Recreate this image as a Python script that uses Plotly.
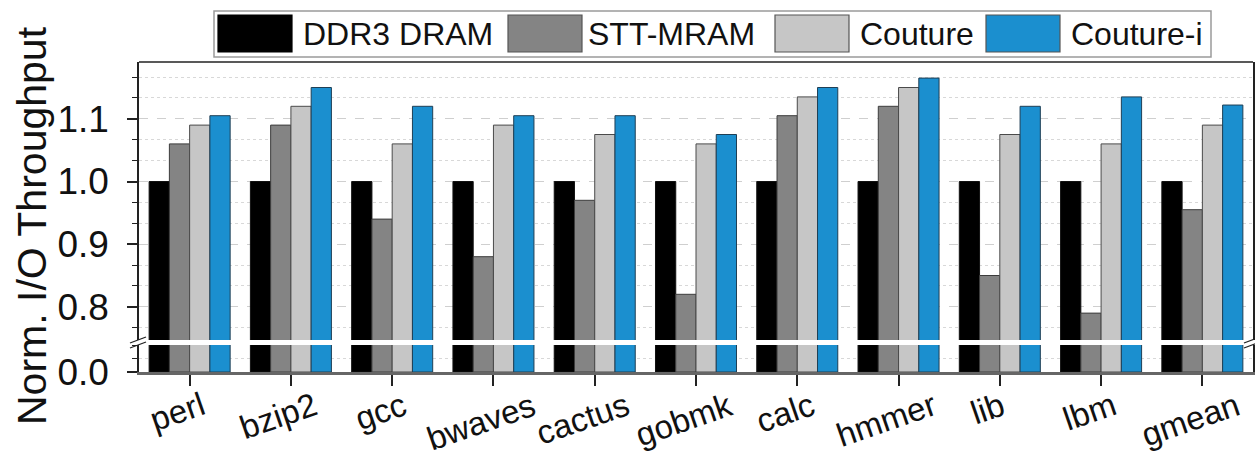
import plotly.graph_objects as go

categories = ["perl", "bzip2", "gcc", "bwaves", "cactus", "gobmk", "calc", "hmmer", "lib", "lbm", "gmean"]
ddr3_dram = [1.0, 1.0, 1.0, 1.0, 1.0, 1.0, 1.0, 1.0, 1.0, 1.0, 1.0]
stt_mram = [1.06, 1.09, 0.94, 0.88, 0.97, 0.82, 1.105, 1.12, 0.85, 0.79, 0.955]
couture = [1.09, 1.12, 1.06, 1.09, 1.075, 1.06, 1.135, 1.15, 1.075, 1.06, 1.09]
couture_i = [1.105, 1.15, 1.12, 1.105, 1.105, 1.075, 1.15, 1.165, 1.12, 1.135, 1.122]

series_names = ["DDR3 DRAM", "STT-MRAM", "Couture", "Couture-i"]
series_values = [ddr3_dram, stt_mram, couture, couture_i]
series_colors = ["#000000", "#848484", "#c6c6c6", "#1b8fcf"]
series_lines = ["#111111", "#3c3c3c", "#4a4a4a", "#1f3f55"]

y_ticks_lower = [0.0]

W, H = 1255, 457
ML, MR, MT, MB = 139, 2, 62, 85
PW = W - ML - MR
PH = H - MT - MB

def px(x):
    return (x - ML) / PW

def py(y):
    return (H - MB - y) / PH

FONT = "Liberation Sans, Arial, sans-serif"

fig = go.Figure()
for name, vals, col, lc in zip(series_names, series_values, series_colors, series_lines):
    for ax in ["y", "y2"]:
        fig.add_trace(go.Bar(
            x=categories, y=vals, name=name, yaxis=ax, xaxis="x",
            marker=dict(color=col, line=dict(color=lc, width=1)),
            showlegend=False, hoverinfo="x+y+name",
        ))

# break geometry (pixels)
brk_top, brk_bot = 340, 345
bottom_px = H - MB
upper_dom = [(bottom_px - brk_top) / PH, 1.0]
lower_dom = [0.0, (bottom_px - brk_bot) / PH]
scale = 626.7  # px per unit
upper_range = [1.0 - (brk_top - 181.5) / scale, 1.0 + (181.5 - MT) / scale]
lower_range = [0.0, (bottom_px - brk_bot) / scale]

axis_font = dict(family=FONT, size=37, color="#111111")
grid_major = "#cfcfcf"
grid_minor = "#d8d8d8"

fig.update_layout(
    width=W, height=H,
    margin=dict(l=ML, r=MR, t=MT, b=MB, autoexpand=False),
    paper_bgcolor="white", plot_bgcolor="white",
    barmode="group", bargap=0.2, bargroupgap=0.0,
    showlegend=False,
    xaxis=dict(
        anchor="y", domain=[0, 1], showticklabels=False,
        ticks="outside", ticklen=11, tickwidth=1.5, tickcolor="#222222",
        showline=True, linecolor="#666666", linewidth=2.5,
        showgrid=False, zeroline=False,
        range=[-0.5, 10.5],
    ),
    yaxis=dict(
        anchor="x", domain=lower_dom, range=lower_range,
        tickmode="array", tickvals=y_ticks_lower, ticktext=["0.0"],
        ticks="outside", ticklen=10, tickwidth=1.5, tickcolor="#222222",
        tickfont=axis_font, ticklabelstandoff=11,
        showline=True, mirror=True, linecolor="#222222", linewidth=1.5,
        showgrid=False, zeroline=False,
        minor=dict(tick0=0.0, dtick=(lower_range[1]) / 2, ticks="outside", ticklen=5,
                   tickwidth=1.2, tickcolor="#222222", showgrid=True,
                   gridcolor=grid_minor, griddash="dot", gridwidth=1),
    ),
    yaxis2=dict(
        anchor="x", domain=upper_dom, range=upper_range,
        tickmode="linear", tick0=0.8, dtick=0.1, tickformat=".1f",
        ticks="outside", ticklen=10, tickwidth=1.5, tickcolor="#222222",
        tickfont=axis_font, ticklabelstandoff=11,
        showline=True, mirror=True, linecolor="#222222", linewidth=1.5,
        showgrid=True, gridcolor=grid_major, griddash="dash", gridwidth=1,
        zeroline=False,
        minor=dict(tick0=0.8, dtick=0.1 / 3, ticks="outside", ticklen=5,
                   tickwidth=1.2, tickcolor="#222222", showgrid=True,
                   gridcolor=grid_minor, griddash="dot", gridwidth=1),
    ),
    font=dict(family=FONT, color="#111111"),
)

shapes = []
# top border of the frame
shapes.append(dict(type="line", xref="paper", yref="paper", x0=0, x1=1, y0=1, y1=1,
                   line=dict(color="#222222", width=1.5)))
# axis break slashes (left and right)
for xc in [ML, W - MR]:
    for yb in [brk_top, brk_bot]:
        shapes.append(dict(type="line", xref="paper", yref="paper",
                           x0=px(xc - 9), x1=px(xc + 7), y0=py(yb + 3), y1=py(yb - 3),
                           line=dict(color="#222222", width=1.3)))

# custom legend
leg_left, leg_right, leg_top, leg_bot = 214, 1211, 11, 57
shapes.append(dict(type="rect", xref="paper", yref="paper",
                   x0=px(leg_left), x1=px(leg_right), y0=py(leg_bot), y1=py(leg_top),
                   line=dict(color="#9a9a9a", width=1.5), fillcolor="white"))
patch_x = [218, 508, 775, 986]
text_x = [301, 586, 858, 1069]
annotations = []
for name, col, pxl, tx in zip(series_names, series_colors, patch_x, text_x):
    shapes.append(dict(type="rect", xref="paper", yref="paper",
                       x0=px(pxl), x1=px(pxl + 74), y0=py(52), y1=py(15),
                       line=dict(color="#555555" if col != "#000000" else "#000000", width=1.2),
                       fillcolor=col))
    annotations.append(dict(text=name, xref="paper", yref="paper", x=px(tx), y=py(34),
                            xanchor="left", yanchor="middle", showarrow=False,
                            font=dict(family=FONT, size=32, color="#111111")))

# x category labels (rotated)
for c in categories:
    annotations.append(dict(text=c, xref="x", yref="paper", x=c, y=0, yshift=-11, xshift=-12,
                            xanchor="center", yanchor="top", textangle=-19, showarrow=False,
                            font=dict(family=FONT, size=33, color="#111111")))

# y axis title
annotations.append(dict(text="Norm. I/O Throughput", xref="paper", yref="paper",
                        x=px(32), y=py(226), xanchor="center", yanchor="middle",
                        textangle=-90, showarrow=False,
                        font=dict(family=FONT, size=41, color="#111111")))

fig.update_layout(shapes=shapes, annotations=annotations)
fig.write_html(
    "out.html",
    config={"displayModeBar": False},
    post_script="document.body.style.margin='0';document.body.style.overflow='hidden';",
)
